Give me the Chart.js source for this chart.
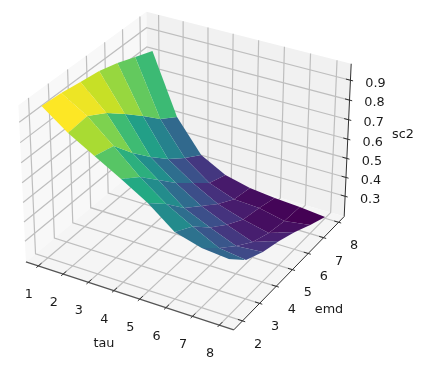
<!DOCTYPE html>
<html>
<head>
<meta charset="utf-8">
<style>html,body{margin:0;background:#fff}canvas{display:block;filter:blur(0.35px)}</style>
<script src="https://cdn.jsdelivr.net/npm/chart.js@4"></script>
</head>
<body>
<canvas id="chart" width="432" height="386"></canvas>
<script>
// axes
const tauValues = [1, 2, 3, 4, 5, 6, 7, 8];
const emdValues = [2, 3, 4, 5, 6, 7, 8];
const zTicks = [0.3, 0.4, 0.5, 0.6, 0.7, 0.8, 0.9];

// sc2, one list per tau, emd going 2..8
const sc2Tau1 = [0.960, 0.953, 0.937, 0.922, 0.894, 0.857, 0.821];
const sc2Tau2 = [0.865, 0.875, 0.818, 0.740, 0.658, 0.569, 0.507];
const sc2Tau3 = [0.790, 0.763, 0.653, 0.557, 0.470, 0.399, 0.339];
const sc2Tau4 = [0.715, 0.647, 0.554, 0.460, 0.382, 0.303, 0.268];
const sc2Tau5 = [0.636, 0.550, 0.450, 0.379, 0.309, 0.255, 0.236];
const sc2Tau6 = [0.532, 0.477, 0.390, 0.321, 0.267, 0.247, 0.221];
const sc2Tau7 = [0.494, 0.409, 0.335, 0.272, 0.236, 0.218, 0.212];
const sc2Tau8 = [0.481, 0.390, 0.346, 0.319, 0.282, 0.237, 0.198];
const sc2 = [sc2Tau1, sc2Tau2, sc2Tau3, sc2Tau4, sc2Tau5, sc2Tau6, sc2Tau7, sc2Tau8];

const viridis = ['#440154', '#482475', '#414487', '#355f8d', '#2a788e', '#21918c', '#22a884', '#44bf70', '#7ad151', '#bddf26', '#fde725'];

// limits of the 3d box
const xLim = [0.5, 8.53], yLim = [1.5, 8.38], zLim = [0.191, 0.982];

// same camera as mplot3d: elev 30, azim -60, box 4:4:3, distance 10
const box = [1.1905, 1.1905, 0.8929];
const W = [0.4330127, -0.75, 0.5];
const U = [0.8660254, 0.5, 0];
const V = [-0.25, 0.4330127, 0.8660254];
const dot = (a, b) => a[0] * b[0] + a[1] * b[1] + a[2] * b[2];

function toView(tau, emd, z) {
  const d = [
    ((tau - xLim[0]) / (xLim[1] - xLim[0]) - 0.5) * box[0],
    ((emd - yLim[0]) / (yLim[1] - yLim[0]) - 0.5) * box[1],
    ((z - zLim[0]) / (zLim[1] - zLim[0]) - 0.5) * box[2]
  ];
  const depth = dot(d, W);
  const f = 1 / (1 - depth / 10);
  return { x: dot(d, U) * f, y: dot(d, V) * f, depth };
}

function colorAt(t) {
  const p = Math.min(Math.max(t, 0), 1) * (viridis.length - 1);
  const i = Math.min(Math.floor(p), viridis.length - 2);
  const mix = (a, b, k) => Math.round(a + (b - a) * k);
  const rgb = h => [1, 3, 5].map(n => parseInt(h.slice(n, n + 2), 16));
  const c0 = rgb(viridis[i]), c1 = rgb(viridis[i + 1]);
  return `rgb(${mix(c0[0], c1[0], p - i)},${mix(c0[1], c1[1], p - i)},${mix(c0[2], c1[2], p - i)})`;
}

const datasets = [];

function addShape(points, color) {
  datasets.push({
    data: points.map(p => toView(p[0], p[1], p[2])),
    showLine: true, fill: 'shape', backgroundColor: color,
    borderWidth: 0, pointRadius: 0, tension: 0, clip: false
  });
}

function addLine(points, color, width) {
  datasets.push({
    data: points.map(p => toView(p[0], p[1], p[2])),
    showLine: true, fill: false, borderColor: color,
    borderWidth: width, pointRadius: 0, tension: 0, clip: false
  });
}

// panes
const [x0, x1] = xLim, [y0, y1] = yLim, [z0, z1] = zLim;
addShape([[x0, y0, z0], [x0, y1, z0], [x0, y1, z1], [x0, y0, z1]], '#f8f8f8');
addShape([[x0, y1, z0], [x1, y1, z0], [x1, y1, z1], [x0, y1, z1]], '#f1f1f1');
addShape([[x0, y0, z0], [x1, y0, z0], [x1, y1, z0], [x0, y1, z0]], '#f5f5f5');

// grid
const gridColor = '#bebebe';
tauValues.forEach(t => addLine([[t, y0, z0], [t, y1, z0], [t, y1, z1]], gridColor, 1.2));
emdValues.forEach(e => addLine([[x1, e, z0], [x0, e, z0], [x0, e, z1]], gridColor, 1.2));
zTicks.forEach(z => addLine([[x0, y0, z], [x0, y1, z], [x1, y1, z]], gridColor, 1.2));

// axis lines and tick marks
const axisColor = '#303030';
addLine([[x0, y0, z0], [x1, y0, z0]], '#555', 1.3);
addLine([[x1, y0, z0], [x1, y1, z0]], axisColor, 1);
addLine([[x1, y1, z0], [x1, y1, z1]], axisColor, 1);
tauValues.forEach(t => addLine([[t, y0 - 0.1, z0], [t, y0 + 0.17, z0]], axisColor, 1));
emdValues.forEach(e => addLine([[x1 + 0.1, e, z0], [x1 - 0.17, e, z0]], axisColor, 1));
zTicks.forEach(z => addLine([[x1 + 0.1, y1, z], [x1 - 0.17, y1, z]], axisColor, 1));

// surface cells, far ones first, colour from the mean of each cell
const cells = [];
for (let i = 0; i < tauValues.length - 1; i++) {
  for (let j = 0; j < emdValues.length - 1; j++) {
    const corners = [[i, j], [i + 1, j], [i + 1, j + 1], [i, j + 1]]
      .map(([a, b]) => [tauValues[a], emdValues[b], sc2[a][b]]);
    const mean = corners.reduce((s, c) => s + c[2], 0) / 4;
    const depth = corners.reduce((s, c) => s + toView(c[0], c[1], c[2]).depth, 0) / 4;
    cells.push({ corners, mean, depth });
  }
}
const meanMin = Math.min(...cells.map(c => c.mean));
const meanMax = Math.max(...cells.map(c => c.mean));
cells.sort((a, b) => a.depth - b.depth).forEach(c => {
  addShape(c.corners, colorAt((c.mean - meanMin) / (meanMax - meanMin)));
});

// later datasets paint on top
datasets.forEach((d, i) => { d.order = -i; });

const axisText = {
  id: 'axisText',
  afterDatasetsDraw(chart) {
    const { ctx, scales } = chart;
    const px = (tau, emd, z) => {
      const p = toView(tau, emd, z);
      return [scales.x.getPixelForValue(p.x), scales.y.getPixelForValue(p.y)];
    };
    ctx.save();
    ctx.font = '12.8px "DejaVu Sans"';
    ctx.fillStyle = '#1a1a1a';
    ctx.textAlign = 'center';
    ctx.textBaseline = 'middle';
    tauValues.forEach(t => {
      const [a, b] = px(t, y0, z0);
      ctx.fillText(String(t), a - 9.4, b + 28.8);
    });
    emdValues.forEach(e => {
      const [a, b] = px(x1, e, z0);
      ctx.fillText(String(e), a + 15.5, b + 23.5);
    });
    zTicks.forEach(z => {
      const [a, b] = px(x1, y1, z);
      ctx.fillText(z.toFixed(1), a + 25, b + 3);
    });
    ctx.fillText('tau', 104, 344);
    ctx.fillText('emd', 329, 310);
    ctx.fillText('sc2', 403, 135);
    ctx.restore();
  }
};

new Chart(document.getElementById('chart'), {
  type: 'scatter',
  data: { datasets },
  options: {
    responsive: false,
    animation: false,
    events: [],
    layout: { padding: 0 },
    plugins: { legend: { display: false }, tooltip: { enabled: false } },
    scales: {
      x: { type: 'linear', display: false, min: -0.94, max: 1.22 },
      y: { type: 'linear', display: false, min: -1.114, max: 0.816 }
    }
  },
  plugins: [axisText]
});
</script>
</body>
</html>
